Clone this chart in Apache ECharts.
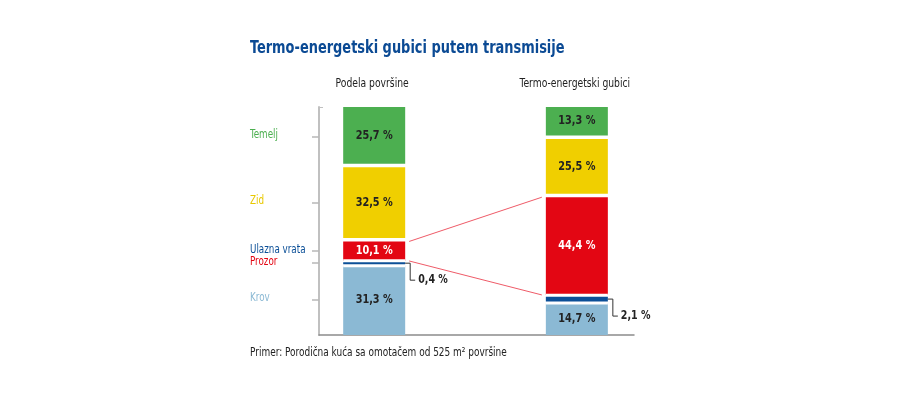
<!DOCTYPE html>
<html><head><meta charset="utf-8">
<script src="https://cdn.jsdelivr.net/npm/echarts@6/dist/echarts.min.js"></script>
<style>html,body{margin:0;padding:0;background:#fff}#c{width:900px;height:400px}</style>
</head><body><div id="c"></div>
<script>
// ---- data ----
const categories = ['Podela površine', 'Termo-energetski gubici'];
const parts = ['Krov', 'Ulazna vrata', 'Prozor', 'Zid', 'Temelj']; // bottom to top
const krov = [31.3, 14.7];
const ulaznaVrata = [0.4, 2.1];
const prozor = [10.1, 44.4];
const zid = [32.5, 25.5];
const temelj = [25.7, 13.3];
// labels on the left axis, bottom to top, as placed in the picture
const tickLabels = ['Krov', 'Prozor', 'Ulazna vrata', 'Zid', 'Temelj'];
const titleText = 'Termo-energetski gubici putem transmisije';
const noteText = 'Primer: Porodična kuća sa omotačem od 525 m² površine';

// ---- styles ----
const partColors = ['#8bb9d4', '#0b4f97', '#e30613', '#f0cf00', '#4caf50'];
const tickLabelColors = ['#8bb9d4', '#e30613', '#0b4f97', '#e8c800', '#4caf50'];
const FONT = '"DejaVu Sans Condensed", "Noto Sans", sans-serif';
const BAR_W = 62, GAP = 3.5, HALO = 3;

const seriesValues = [krov, ulaznaVrata, prozor, zid, temelj];
const starts = seriesValues.map(() => categories.map(() => 0));
for (let c = 0; c < categories.length; c++) {
  let acc = 0;
  for (let p = 0; p < parts.length; p++) { starts[p][c] = acc; acc += seriesValues[p][c]; }
}
const leftCenters = parts.map((_, p) => starts[p][0] + seriesValues[p][0] / 2);
const fmt = v => v.toFixed(1).replace('.', ',') + ' %';
const xMin = -0.2723, xMax = 1.282;

function makeRender(p) {
  return function (params, api) {
    const cat = api.value(0), s = api.value(1), e = api.value(2), val = api.value(3);
    const pTop = api.coord([cat, e]);
    const pBot = api.coord([cat, s]);
    const x = pTop[0] - BAR_W / 2;
    const children = [];
    if (val < 3) {
      const cy = (pTop[1] + pBot[1]) / 2;
      const h = Math.max(pBot[1] - pTop[1], 2);
      children.push({ type: 'rect', shape: { x: x, y: cy - h / 2 - HALO, width: BAR_W, height: h + 2 * HALO }, style: { fill: '#fff' } });
      children.push({ type: 'rect', shape: { x: x, y: cy - h / 2, width: BAR_W, height: h }, style: { fill: partColors[p] } });
      const xr = x + BAR_W;
      children.push({ type: 'polyline', shape: { points: [[xr, cy], [xr + 5, cy], [xr + 5, cy + 17], [xr + 10, cy + 17]] }, style: { stroke: '#333', lineWidth: 1, fill: null } });
      children.push({ type: 'text', x: xr + 13, y: cy + 17, scaleX: 0.88, style: { text: fmt(val), fill: '#222', font: 'bold 12px ' + FONT, align: 'left', verticalAlign: 'middle' } });
    } else {
      const ti = p < parts.length - 1 ? GAP / 2 : 0;
      const bi = p > 0 ? GAP / 2 : 0;
      const y1 = pTop[1] + ti, y2 = pBot[1] - bi;
      children.push({ type: 'rect', shape: { x: x, y: y1, width: BAR_W, height: y2 - y1 }, style: { fill: partColors[p] } });
      children.push({ type: 'text', x: pTop[0], y: (y1 + y2) / 2, scaleX: 0.9, style: { text: fmt(val), fill: p === 2 ? '#fff' : '#222', font: 'bold 12px ' + FONT, align: 'center', verticalAlign: 'middle' } });
      if (p === 2 && params.dataIndex === 1) {
        const lt = api.coord([0, starts[p][0] + seriesValues[p][0]]);
        const lb = api.coord([0, starts[p][0]]);
        const xl = lt[0] + BAR_W / 2 + 4, xr2 = x - 4;
        const st = { stroke: '#ef5b68', lineWidth: 1 };
        children.push({ type: 'line', shape: { x1: xl, y1: lt[1] + GAP / 2, x2: xr2, y2: y1 }, style: st });
        children.push({ type: 'line', shape: { x1: xl, y1: lb[1] - GAP / 2, x2: xr2, y2: y2 }, style: st });
      }
    }
    return { type: 'group', children: children };
  };
}

const series = parts.map((name, p) => ({
  type: 'custom',
  name: name,
  z: seriesValues[p].some(v => v < 3) ? 5 : 2,
  renderItem: makeRender(p),
  encode: { x: 0, y: [1, 2] },
  data: categories.map((c, i) => [i, starts[p][i], starts[p][i] + seriesValues[p][i], seriesValues[p][i]])
}));

// left axis labels (at the centres of the left bar's segments)
series.push({
  type: 'custom', name: 'axisLabels', silent: true, clip: false,
  encode: { x: 0, y: 1 },
  data: leftCenters.map((c, i) => [xMin, c, i]),
  renderItem: function (params, api) {
    const pt = api.coord([api.value(0), api.value(1)]);
    const i = api.value(2);
    return { type: 'text', x: pt[0] - 69, y: pt[1] - 1.5, scaleX: 0.78,
      style: { text: tickLabels[i], fill: tickLabelColors[i], font: '12.5px ' + FONT, align: 'left', verticalAlign: 'middle' } };
  }
});
// column headings above each bar
series.push({
  type: 'custom', name: 'headings', silent: true, clip: false,
  encode: { x: 0, y: 1 },
  data: categories.map((c, i) => [i, 100, i]),
  renderItem: function (params, api) {
    const pt = api.coord([api.value(0), api.value(1)]);
    return { type: 'text', x: pt[0] - 2, y: pt[1] - 23, scaleX: 0.82,
      style: { text: categories[api.value(2)], fill: '#222', font: '12.5px ' + FONT, align: 'center', verticalAlign: 'middle' } };
  }
});

const chart = echarts.init(document.getElementById('c'));
chart.setOption({
  animation: false,
  backgroundColor: '#fff',
  graphic: [
    { type: 'text', left: 250, top: 39, scaleX: 0.8, originX: 0,
      style: { text: titleText, font: 'bold 18px ' + FONT, fill: '#0b4a94' } },
    { type: 'text', left: 250, top: 347, scaleX: 0.83, originX: 0,
      style: { text: noteText, font: '12px ' + FONT, fill: '#222' } }
  ],
  grid: { left: 319, right: 266, top: 107, bottom: 65 },
  xAxis: { type: 'value', min: xMin, max: xMax, position: 'bottom',
    axisLine: { show: true, lineStyle: { color: '#8c8c8c', width: 1.5 } },
    axisTick: { show: false }, axisLabel: { show: false }, splitLine: { show: false } },
  yAxis: [
    { type: 'value', min: 0, max: 100,
      axisLine: { show: true, onZero: false, lineStyle: { color: '#c0c0c0', width: 2 } },
      axisTick: { show: true, customValues: leftCenters, length: 7, lineStyle: { color: '#b8b8b8', width: 1.5 } },
      axisLabel: { show: false }, splitLine: { show: false } },
    { type: 'value', min: 0, max: 100, position: 'left', offset: 0,
      axisLine: { show: false, onZero: false },
      axisTick: { show: true, inside: true, customValues: [100], length: 4, lineStyle: { color: '#c0c0c0', width: 1 } },
      axisLabel: { show: false }, splitLine: { show: false } }
  ],
  series: series
});
</script></body></html>
